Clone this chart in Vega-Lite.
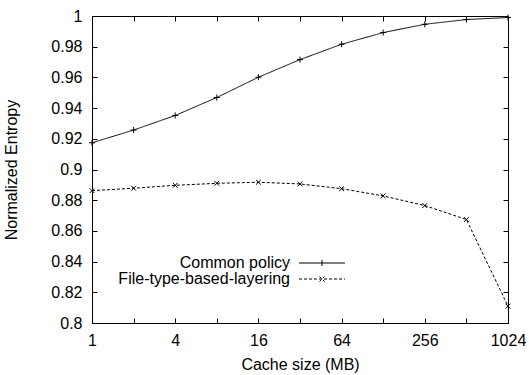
{
  "$schema": "https://vega.github.io/schema/vega-lite/v6.json",
  "width": 416,
  "height": 307,
  "autosize": {"type": "none"},
  "padding": {"left": 92, "top": 16, "right": 21, "bottom": 52},
  "background": "white",
  "config": {
    "font": "Liberation Sans",
    "view": {"stroke": "black", "strokeWidth": 1},
    "axis": {
      "domain": false,
      "grid": false,
      "tickColor": "black",
      "tickSize": 5,
      "labelColor": "black",
      "labelFont": "Liberation Sans",
      "labelFontSize": 16,
      "titleFont": "Liberation Sans",
      "titleFontWeight": "normal",
      "titleColor": "black"
    }
  },
  "data": {
    "values": [
      {"size": 1, "entropy": 0.9174, "series": "Common policy"},
      {"size": 2, "entropy": 0.9257, "series": "Common policy"},
      {"size": 4, "entropy": 0.9352, "series": "Common policy"},
      {"size": 8, "entropy": 0.9469, "series": "Common policy"},
      {"size": 16, "entropy": 0.9601, "series": "Common policy"},
      {"size": 32, "entropy": 0.9716, "series": "Common policy"},
      {"size": 64, "entropy": 0.9816, "series": "Common policy"},
      {"size": 128, "entropy": 0.9892, "series": "Common policy"},
      {"size": 256, "entropy": 0.9946, "series": "Common policy"},
      {"size": 512, "entropy": 0.9977, "series": "Common policy"},
      {"size": 1024, "entropy": 0.999, "series": "Common policy"},
      {"size": 1, "entropy": 0.8862, "series": "File-type-based-layering"},
      {"size": 2, "entropy": 0.8878, "series": "File-type-based-layering"},
      {"size": 4, "entropy": 0.8897, "series": "File-type-based-layering"},
      {"size": 8, "entropy": 0.891, "series": "File-type-based-layering"},
      {"size": 16, "entropy": 0.8917, "series": "File-type-based-layering"},
      {"size": 32, "entropy": 0.8906, "series": "File-type-based-layering"},
      {"size": 64, "entropy": 0.8875, "series": "File-type-based-layering"},
      {"size": 128, "entropy": 0.8828, "series": "File-type-based-layering"},
      {"size": 256, "entropy": 0.8765, "series": "File-type-based-layering"},
      {"size": 512, "entropy": 0.8674, "series": "File-type-based-layering"},
      {"size": 1024, "entropy": 0.811, "series": "File-type-based-layering"}
    ]
  },
  "layer": [
    {
      "mark": {"type": "line", "color": "black", "strokeWidth": 1},
      "encoding": {
        "x": {
          "field": "size", "type": "quantitative",
          "scale": {"type": "log", "base": 2, "domain": [1, 1024], "nice": false},
          "axis": {
            "orient": "bottom",
            "values": [1, 2, 4, 8, 16, 32, 64, 128, 256, 512, 1024],
            "labelExpr": "indexof([1,4,16,64,256,1024], datum.value) >= 0 ? datum.value : ''",
            "tickSize": -5,
            "labelPadding": 14,
            "labelFlush": false,
            "labelOverlap": false,
            "title": "Cache size (MB)",
            "titleFontSize": 16,
            "titlePadding": 8
          }
        },
        "y": {
          "field": "entropy", "type": "quantitative",
          "scale": {"domain": [0.8, 1], "nice": false, "zero": false},
          "axis": {
            "orient": "left",
            "values": [0.8, 0.82, 0.84, 0.86, 0.88, 0.9, 0.92, 0.94, 0.96, 0.98, 1],
            "format": ".2~f",
            "tickSize": -5,
            "labelPadding": 15,
            "labelFlush": false,
            "labelOverlap": false,
            "title": "Normalized Entropy",
            "titleFontSize": 16,
            "titlePadding": 31
          }
        },
        "strokeDash": {
          "field": "series", "type": "nominal",
          "scale": {"domain": ["Common policy", "File-type-based-layering"], "range": [[1, 0], [3, 2]]},
          "legend": {
            "orient": "none",
            "legendX": 222,
            "legendY": 239,
            "title": null,
            "padding": 0,
            "rowPadding": 0,
            "labelFontSize": 16,
            "labelFont": "Liberation Sans",
            "labelColor": "black",
            "labelAlign": "right",
            "labelOffset": -40,
            "labelLimit": 400,
            "symbolSize": 100,
            "symbolStrokeColor": "black",
            "symbolStrokeWidth": 1,
            "encode": {
              "symbols": {
                "update": {
                  "shape": {"signal": "datum.value === 'Common policy' ? 'M-4.6,0L4.6,0M0,-0.6L0,0.6' : 'M-4.6,0L4.6,0M-0.5,-0.5L0.5,0.5M-0.5,0.5L0.5,-0.5'"},
                  "stroke": {"value": "black"}
                }
              }
            }
          }
        }
      }
    },
    {
      "transform": [{"filter": "datum.series === 'Common policy'"}],
      "mark": {"type": "point", "filled": false, "color": "black", "strokeWidth": 1, "size": 36, "opacity": 1, "shape": "M-1,0L1,0M0,-1L0,1"},
      "encoding": {
        "x": {
          "field": "size", "type": "quantitative",
          "scale": {"type": "log", "base": 2, "domain": [1, 1024], "nice": false},
          "axis": {
            "orient": "top",
            "values": [1, 2, 4, 8, 16, 32, 64, 128, 256, 512, 1024],
            "labels": false,
            "tickSize": -5,
            "title": null
          }
        },
        "y": {
          "field": "entropy", "type": "quantitative",
          "scale": {"domain": [0.8, 1], "nice": false, "zero": false},
          "axis": {
            "orient": "right",
            "values": [0.8, 0.82, 0.84, 0.86, 0.88, 0.9, 0.92, 0.94, 0.96, 0.98, 1],
            "labels": false,
            "tickSize": -5,
            "title": null
          }
        }
      }
    },
    {
      "transform": [{"filter": "datum.series === 'File-type-based-layering'"}],
      "mark": {"type": "point", "filled": false, "color": "black", "strokeWidth": 1, "size": 36, "opacity": 1, "shape": "M-0.8,-0.8L0.8,0.8M-0.8,0.8L0.8,-0.8"},
      "encoding": {
        "x": {
          "field": "size", "type": "quantitative",
          "scale": {"type": "log", "base": 2, "domain": [1, 1024], "nice": false},
          "axis": null
        },
        "y": {
          "field": "entropy", "type": "quantitative",
          "scale": {"domain": [0.8, 1], "nice": false, "zero": false},
          "axis": null
        }
      }
    }
  ],
  "resolve": {"scale": {"x": "independent", "y": "independent"}, "axis": {"x": "independent", "y": "independent"}}
}
